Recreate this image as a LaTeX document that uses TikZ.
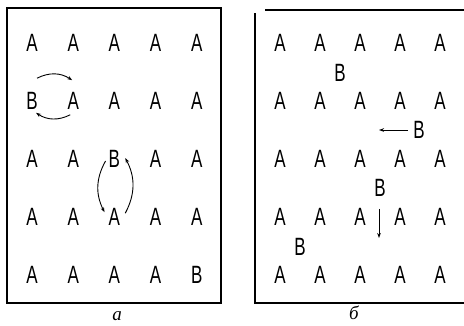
\documentclass[tikz,border=0pt]{standalone}
\usepackage{fontspec}
\usepackage{graphicx}
\usepackage{tikz}
\usetikzlibrary{positioning,arrows.meta}
\newfontfamily\gridfont{Liberation Sans}
\newfontfamily\capfont{Liberation Serif}
\newcommand{\narrow}[1]{\scalebox{0.68}[1]{#1}}

\begin{document}
\begin{tikzpicture}[x=1pt,y=-1pt,
          every node/.style={inner sep=0pt},
          atom/.style={font=\gridfont\fontsize{25}{25}\selectfont},
          frame/.style={line width=1.1pt},
          hop/.style={line width=0.9pt, -{Stealth[length=5pt,width=3.6pt]}},
          caption/.style={font=\capfont\itshape\fontsize{19}{19}\selectfont}
      ]
        \useasboundingbox (0,0) rectangle (464,325);

        % a: ordered lattice, B exchanging with A
        \draw[frame] (7,8) rectangle (221,303);
        \foreach \letters [count=\r from 0] in {{A,A,A,A,A},{B,A,A,A,A},{A,A,B,A,A},{A,A,A,A,A},{A,A,A,A,B}}
          \foreach \ch [count=\c from 0] in \letters
            \node[atom] (l\c\r) at ({32+41.2*\c},{43+58*\r}) {\narrow{\ch}};

        \draw[hop] ([shift={(5,-14)}]l01.north) to[bend left=30] ([shift={(-1,-12)}]l11.north);
        \draw[hop] ([shift={(-3,5)}]l11.south) to[bend left=30] ([shift={(4,3)}]l01.south);
        \draw[hop] ([shift={(-3,2)}]l22.west) to[bend right=28] ([shift={(-4,4)}]l23.north west);
        \draw[hop] ([shift={(5,5)}]l23.north east) to[bend right=28] ([shift={(5,-1)}]l22.east);

        \node[caption] (capa) at (117,316) {a};

        % b: B atoms in interstitial sites
        \draw[frame] (265,10) -- (464,10);
        \draw[frame] (255,13) -- (255,303) -- (464,303);
        \foreach \r in {0,...,4}
          \foreach \c in {0,...,4}
            \node[atom] (r\c\r) at ({280+40*\c},{43+58*\r}) {\narrow{A}};

        \node[atom] (rb1) at (340,73) {\narrow{B}};
        \node[atom] (rb2) at (419,130) {\narrow{B}};
        \node[atom] (rb3) at (380,188) {\narrow{B}};
        \node[atom] (rb4) at (300,247) {\narrow{B}};

        \coordinate (left) at (379,130);
        \coordinate (down) at (379,238);
        \draw[hop] ([xshift=-5pt]rb2.west) -- (left);
        \draw[hop] ([shift={(-1,12)}]rb3.south) -- (down);

        \node[caption] (capb) at (354,313) {б};
      \end{tikzpicture}
\end{document}
